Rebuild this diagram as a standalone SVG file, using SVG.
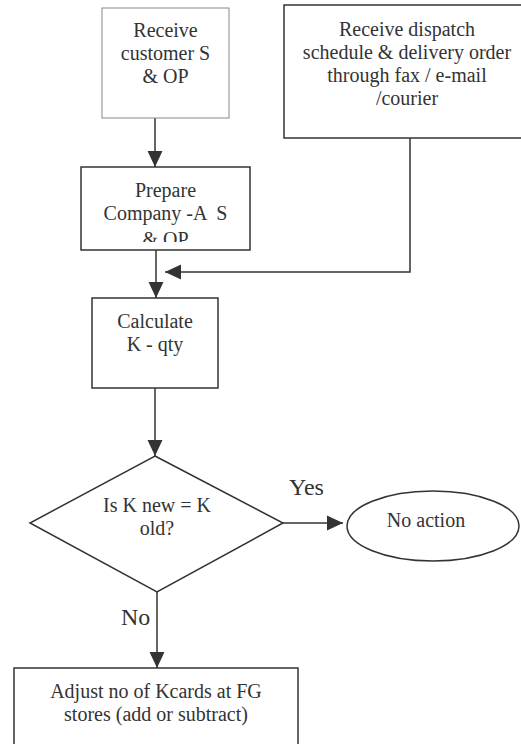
<svg xmlns="http://www.w3.org/2000/svg" width="521" height="744" viewBox="0 0 521 744">
<defs>
<marker id="ah" markerUnits="userSpaceOnUse" markerWidth="16" markerHeight="16" viewBox="0 0 15 14" refX="15" refY="7" orient="auto">
<path d="M0,0 L15,7 L0,14 Z" fill="#333"/>
</marker>
<clipPath id="c3"><rect x="82" y="168" width="167" height="74"/></clipPath>
</defs>
<style>
.box{fill:#fff;stroke:#333;stroke-width:1.5}
.light{fill:#fff;stroke:#888;stroke-width:1}
.t{font-size:20px;fill:#333;text-anchor:middle}
.lbl{font-size:24px;fill:#333}
.c{fill:none;stroke:#333;stroke-width:1.5}
</style>
<g id="connectors">
<line class="c" x1="155" y1="118" x2="155" y2="167" marker-end="url(#ah)"/>
<line class="c" x1="156" y1="250" x2="156" y2="298" marker-end="url(#ah)"/>
<polyline class="c" points="410,138 410,272 165,272" marker-end="url(#ah)"/>
<line class="c" x1="155" y1="388" x2="155" y2="456" marker-end="url(#ah)"/>
<line class="c" x1="283" y1="523" x2="343" y2="523" marker-end="url(#ah)"/>
<line class="c" x1="157" y1="592" x2="157" y2="668" marker-end="url(#ah)"/>
</g>
<g font-family="Liberation Serif, Times New Roman, serif">
<g id="n1">
<rect class="light" x="102" y="8" width="127" height="110"/>
<text class="t" x="165.5" y="37">Receive</text>
<text class="t" x="165.5" y="60">customer S</text>
<text class="t" x="165.5" y="83">&amp; OP</text>
</g>
<g id="n2">
<rect class="box" x="284" y="5" width="250" height="133"/>
<text class="t" x="407" y="36">Receive dispatch</text>
<text class="t" x="407" y="59">schedule &amp; delivery order</text>
<text class="t" x="407" y="82">through fax / e-mail</text>
<text class="t" x="407" y="105">/courier</text>
</g>
<g id="n3">
<rect class="box" x="81" y="167" width="169" height="83"/>
<text class="t" x="165.5" y="197">Prepare</text>
<text class="t" x="165.5" y="220" xml:space="preserve">Company -A  S</text>
<text class="t" x="165.5" y="246" clip-path="url(#c3)">&amp; OP</text>
</g>
<g id="n4">
<rect class="box" x="92" y="298" width="126" height="90"/>
<text class="t" x="155" y="328">Calculate</text>
<text class="t" x="155" y="351">K - qty</text>
</g>
<g id="n5">
<polygon class="box" points="155,456 283,523 157,592 30,523"/>
<text class="t" x="157" y="512">Is K new = K</text>
<text class="t" x="157" y="535">old?</text>
</g>
<g id="n6">
<ellipse class="box" cx="433" cy="526" rx="86" ry="35"/>
<text class="t" x="426" y="527">No action</text>
</g>
<g id="n7">
<rect class="box" x="14" y="668" width="284" height="100"/>
<text class="t" x="156" y="698">Adjust no of Kcards at FG</text>
<text class="t" x="156" y="721">stores (add or subtract)</text>
</g>
<g id="labels">
<text class="lbl" x="289" y="495">Yes</text>
<text class="lbl" x="121" y="625">No</text>
</g>
</g>
</svg>
